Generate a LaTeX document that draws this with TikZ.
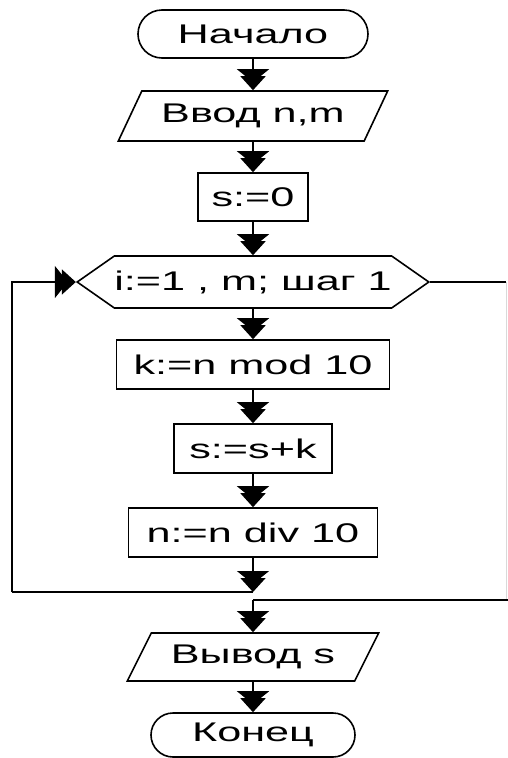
\documentclass[tikz,border=0pt]{standalone}
\usepackage{fontspec}
\setmainfont{Liberation Sans}[FakeStretch=1.6]
\usetikzlibrary{arrows.meta,shapes.geometric,shapes.misc,shapes.symbols}
\tikzset{
  base/.style={draw, line width=1.6pt, inner sep=0pt, text=black},
  term/.style={base, rounded rectangle},
  io/.style={base, trapezium, trapezium left angle=51, trapezium right angle=129, trapezium stretches=true},
  procbox/.style={base, rectangle},
  hexa/.style={base, signal, signal to=west and east, signal pointer angle=70},
  arr/.style={-{Triangle[width=32pt,length=13pt,sep=-6pt] Triangle[width=25pt,length=14pt]}},
  plain/.style={line width=1.8pt}
}
\begin{document}
\begin{tikzpicture}[x=1pt,y=-1pt, font=\fontsize{27}{29}\selectfont]
\useasboundingbox[fill=white] (0,0) rectangle (508,758);
\node[term, minimum width=230pt, minimum height=48pt] (start) at (253,34) {Начало};
\node[io, minimum width=270pt, minimum height=50pt] (in) at (253,116) {Ввод n,m};
\node[procbox, minimum width=110pt, minimum height=48pt] (s0) at (253,197) {s:=0};
\node[hexa, minimum width=347pt, minimum height=52pt] (loop) at (253,282) {i:=1 , m; шаг 1};
\node[procbox, minimum width=273pt, minimum height=49pt] (k) at (253,364.5) {k:=n mod 10};
\node[procbox, minimum width=158pt, minimum height=49pt] (s) at (253,448.5) {s:=s+k};
\node[procbox, minimum width=249pt, minimum height=49pt] (n) at (253,532.5) {n:=n div 10};
\node[io, minimum width=252pt, minimum height=48pt] (out) at (253,657) {Вывод s};
\node[term, minimum width=204pt, minimum height=44pt] (stop) at (253,735) {Конец};
\coordinate (j1) at (253,592);
\coordinate (lc) at (12,592);
\coordinate (j2) at (253,600);
\coordinate (rc) at (506,282);
\coordinate (rb) at (506,600);
\coordinate (re) at (508,600);
\draw[plain, arr] (start) -- (in);
\draw[plain, arr] (in) -- (s0);
\draw[plain, arr] (s0) -- (loop);
\draw[plain, arr] (loop) -- (k);
\draw[plain, arr] (k) -- (s);
\draw[plain, arr] (s) -- (n);
\draw[plain, arr] (n) -- (j1);
\draw[plain] (j1) -- (lc);
\draw[plain, arr] (lc) |- (loop.west);
\draw[plain] (loop.east) -- (rc);
\draw[line width=1pt, black!15] (rc) -- (rb);
\draw[plain] (re) -- (j2);
\draw[plain, arr] (j2) -- (out);
\draw[plain, arr] (out) -- (stop);
\end{tikzpicture}
\end{document}
